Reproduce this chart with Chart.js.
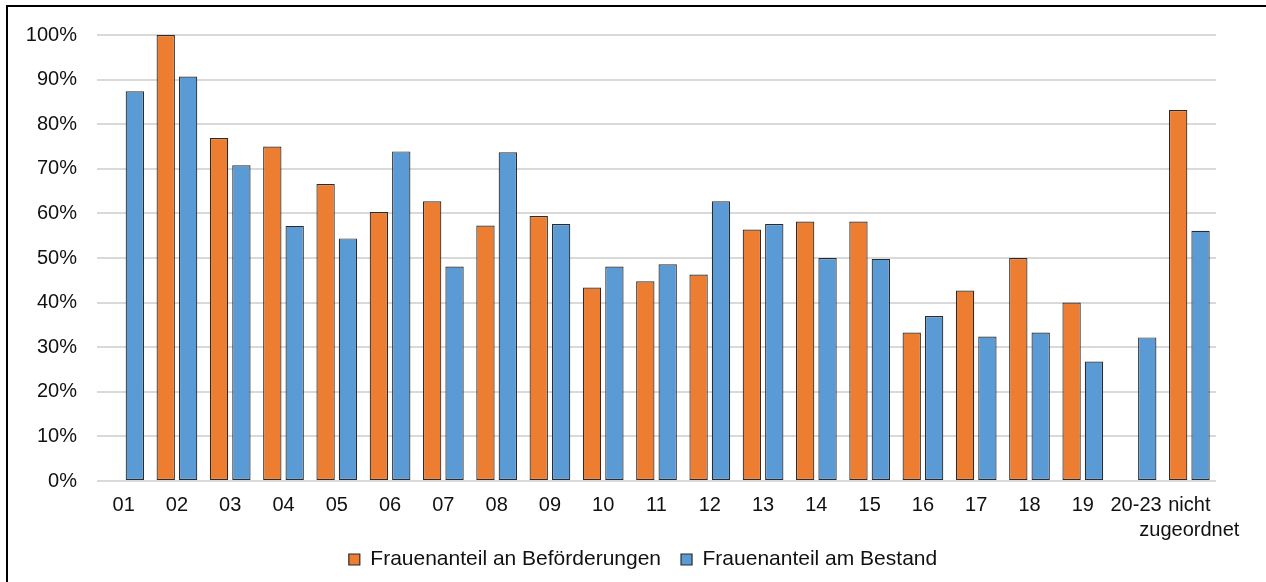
<!DOCTYPE html>
<html>
<head>
<meta charset="utf-8">
<script src="https://cdn.jsdelivr.net/npm/chart.js@4"></script>
<style>
  body { margin: 0; background: #fff; overflow: hidden; }
  #frame { position: absolute; left: 6px; top: 5px; width: 1300px; height: 600px; border: 2px solid #000; }
  #wrap { position: absolute; left: 0; top: 0; width: 1266px; height: 582px; }
</style>
</head>
<body>
<div id="frame"></div>
<div id="wrap"><canvas id="chart"></canvas></div>
<script>
const categories = ["01", "02", "03", "04", "05", "06", "07", "08", "09", "10", "11", "12", "13", "14", "15", "16", "17", "18", "19", "20-23", ["nicht", "zugeordnet"]];
const befoerderungen = [null, 100, 76.9, 75.0, 66.6, 60.3, 62.7, 57.3, 59.4, 43.4, 44.8, 46.3, 56.4, 58.2, 58.2, 33.3, 42.7, 50.0, 40.0, null, 83.2];
const bestand = [87.4, 90.7, 70.8, 57.2, 54.4, 73.9, 48.1, 73.7, 57.6, 48.1, 48.6, 62.7, 57.6, 50.0, 49.8, 37.0, 32.4, 33.3, 26.8, 32.2, 56.1];
const seriesNames = ["Frauenanteil an Beförderungen", "Frauenanteil am Bestand"];

const font = { family: "'Liberation Sans', Arial, sans-serif", size: 20, lineHeight: 1.25 };
const textColor = "#111";

// legend sits tighter under the two-line x label than chart.js allows
const legendNudge = {
  id: "legendNudge",
  beforeLayout(chart) {
    const lg = chart.legend;
    if (lg && !lg._nudged) {
      const fit = lg.fit;
      lg.fit = function () { fit.call(this); this.height -= 16; };
      lg._nudged = true;
    }
  },
  afterLayout(chart) {
    const lg = chart.legend;
    lg.top -= 18;
    lg.left += 35;
    lg.right += 35;
  }
};

new Chart(document.getElementById("chart"), {
  type: "bar",
  plugins: [legendNudge],
  data: {
    labels: categories,
    datasets: [
      {
        label: seriesNames[0],
        data: befoerderungen,
        backgroundColor: "#ED7D31",
        borderColor: "#2b2b2b",
        borderWidth: 1.2,
        borderSkipped: false,
        categoryPercentage: 0.84,
        barPercentage: 0.82
      },
      {
        label: seriesNames[1],
        data: bestand,
        backgroundColor: "#5B9BD5",
        borderColor: "#2b2b2b",
        borderWidth: 1.2,
        borderSkipped: false,
        categoryPercentage: 0.84,
        barPercentage: 0.82
      }
    ]
  },
  options: {
    responsive: true,
    maintainAspectRatio: false,
    animation: false,
    layout: { padding: { top: 35, right: 50, bottom: 0, left: 0 } },
    plugins: {
      tooltip: { enabled: false },
      legend: {
        position: "bottom",
        labels: {
          font: { family: font.family, size: 21 },
          color: textColor,
          boxWidth: 11,
          boxHeight: 11,
          padding: 20
        }
      }
    },
    scales: {
      x: {
        grid: { display: false },
        border: { display: false },
        ticks: { font: font, color: textColor, padding: 4, maxRotation: 0, autoSkip: false }
      },
      y: {
        min: 0,
        max: 100,
        afterFit: (scale) => { scale.width = 97; },
        grid: { color: "#d9d9d9", lineWidth: 2, drawTicks: false },
        border: { display: false },
        ticks: {
          stepSize: 10,
          padding: 20,
          font: font,
          color: textColor,
          callback: (v) => v + "%"
        }
      }
    }
  }
});
</script>
</body>
</html>
